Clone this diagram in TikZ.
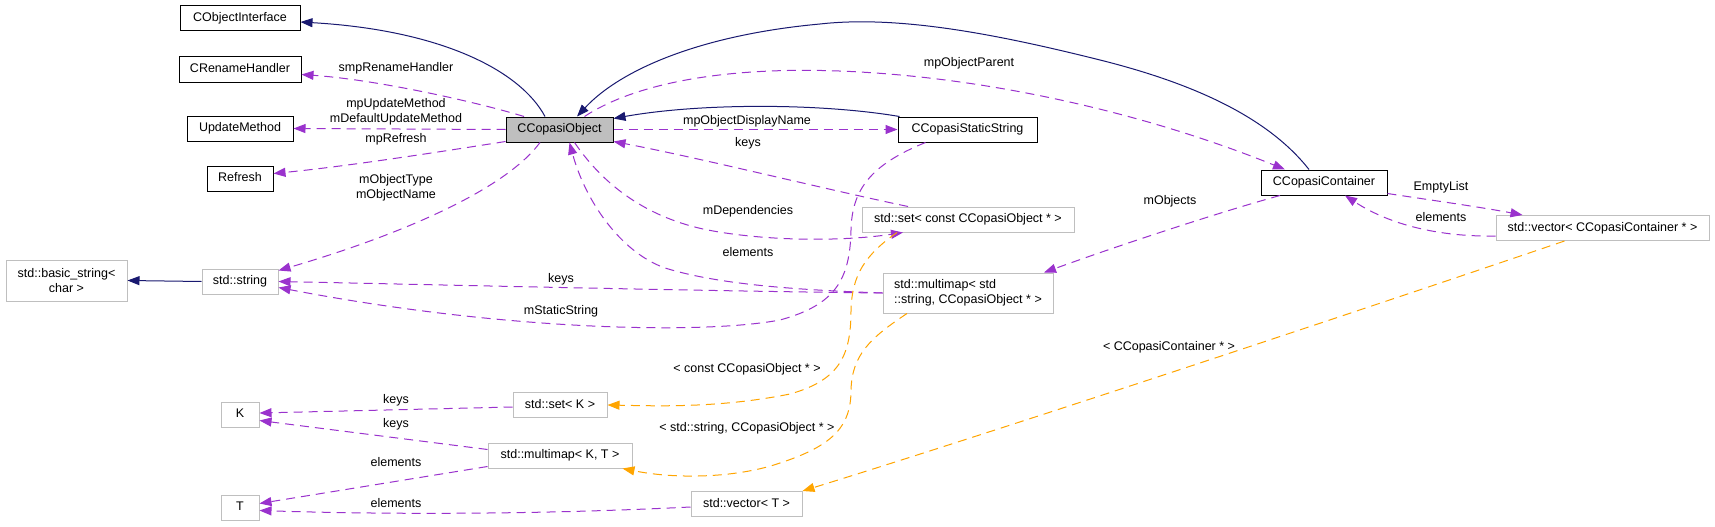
\documentclass[tikz,border=0pt]{standalone}
\usepackage{fontspec}
\setmainfont{Liberation Sans}
\usetikzlibrary{arrows.meta,calc}
\definecolor{navyc}{HTML}{191970}
\definecolor{purp}{HTML}{9A32CD}
\definecolor{orng}{HTML}{FFA500}
\definecolor{gbord}{HTML}{BFBFBF}
\newcommand\dxfont{\fontsize{12.5}{15}\selectfont}
\begin{document}
\begin{tikzpicture}[x=1pt,y=-1pt,
  cls/.style={draw=black, line width=1pt, fill=white, inner sep=0pt, minimum height=25pt, font=\dxfont, text height=9pt, text depth=2.6pt},
  ext/.style={draw=gbord, line width=1pt, fill=white, inner sep=0pt, minimum height=25pt, font=\dxfont, text height=9pt, text depth=2.6pt},
  extm/.style={draw=gbord, line width=1pt, fill=white, inner sep=0pt, font=\dxfont},
  lab/.style={font=\dxfont, inner sep=0pt, text height=9pt, text depth=2.6pt},
  labm/.style={font=\dxfont, inner sep=0pt, align=center},
  tip/.style={-{Triangle[length=12pt,width=9pt]}},
  inh/.style={navyc, line width=1pt, tip},
  use/.style={purp, line width=1pt, dash pattern=on 9pt off 6pt, tip},
  tpl/.style={orng, line width=1pt, dash pattern=on 9pt off 6pt, tip}]
\fill[white] (0,0) rectangle (1715,527);
\useasboundingbox (0,0) rectangle (1715,527);

% classes
\node[cls, fill=gbord, minimum width=107pt] (obj) at (559.5,129.5) {CCopasiObject};
\node[cls, minimum width=120pt] (coi) at (240,18.5) {CObjectInterface};
\node[cls, minimum width=122pt] (ren) at (240,69.5) {CRenameHandler};
\node[cls, minimum width=106pt] (upd) at (240,128.5) {UpdateMethod};
\node[cls, minimum width=66pt] (ref) at (240,178.5) {Refresh};
\node[cls, minimum width=139pt] (stat) at (967.5,129.5) {CCopasiStaticString};
\node[cls, minimum width=126pt] (cont) at (1324,182.5) {CCopasiContainer};
\node[ext, minimum width=213pt] (vcc) at (1602.5,228) {std::vector< CCopasiContainer * >};
\node[ext, minimum width=212pt] (setc) at (968,219.5) {std::set< const CCopasiObject * >};
\node[extm, minimum width=170pt, minimum height=40pt, align=left] (mstr) at (968,293) {std::multimap< std\\::string, CCopasiObject * >};
\node[extm, minimum width=121pt, minimum height=41pt, align=center] (bstr) at (66.5,280.5) {std::basic\_string<\\char >};
\node[ext, minimum width=76pt] (str) at (240,281.5) {std::string};
\node[ext, minimum width=38pt] (K) at (240,414.5) {K};
\node[ext, minimum width=38pt] (T) at (240,507.5) {T};
\node[ext, minimum width=94pt] (setK) at (560,405) {std::set< K >};
\node[ext, minimum width=144pt] (mmKT) at (560,455.5) {std::multimap< K, T >};
\node[ext, minimum width=111pt] (vect) at (746.5,504) {std::vector< T >};

% inheritance
\draw[inh] ([xshift=-14.5pt]obj.north) .. controls (520,70) and (440,30) .. ([yshift=-3.5pt]coi.east);
\draw[inh] ([xshift=-15pt]cont.north) .. controls (1270,120) and (1200,85) .. (1100,60) .. controls (1000,35) and (900,15) .. (820,24) .. controls (700,35) and (620,70) .. ([xshift=17.5pt]obj.north);
\draw[inh] ([xshift=2pt]stat.north west) .. controls (820,103) and (700,103) .. ([yshift=-2pt]obj.north east);
\draw[inh] (str.west) -- (bstr.east);

% usage
\draw[use] (obj.east) -- (stat.west);
\draw[use] ([xshift=25pt]obj.north) .. controls (640,80) and (740,65) .. (860,72) .. controls (1000,80) and (1150,115) .. ([xshift=-39pt]cont.north);
\draw[use] ([xshift=-35.5pt]obj.north) .. controls (480,103) and (380,80) .. ([yshift=-5pt]ren.east);
\draw[use] (obj.west) -- (upd.east);
\draw[use] ([yshift=1pt]obj.south west) .. controls (420,155) and (340,167) .. ([yshift=5pt]ref.east);
\draw[use] ([xshift=-19.5pt]obj.south) .. controls (505,190) and (400,235) .. ([yshift=11pt]str.east);
\draw[use] ([xshift=-60pt]setc.north) .. controls (820,188) and (700,158) .. ([yshift=1pt]obj.south east);
\draw[use] ([xshift=15pt]obj.south) .. controls (600,180) and (640,215) .. (703,229) .. controls (760,241) and (840,242) .. ([xshift=-65pt]setc.south);
\draw[use] (mstr.west) .. controls (800,290) and (720,285) .. (665,268) .. controls (620,252) and (585,200) .. ([xshift=10pt]obj.south);
\draw[use] (mstr.west) .. controls (700,291) and (450,285) .. (str.east);
\draw[use] ([xshift=-42pt]stat.south) .. controls (870,165) and (852,190) .. (851,230) .. controls (850,280) and (835,305) .. (780,320) .. controls (700,335) and (500,330) .. ([yshift=-6pt]str.east);
\draw[use] ([xshift=-44pt]cont.south) .. controls (1220,212) and (1120,245) .. ([xshift=76pt]mstr.north);
\draw[use] ([yshift=2pt]cont.south east) .. controls (1430,200) and (1480,207) .. ([xshift=-80pt]vcc.north);
\draw[use] ([yshift=-8pt]vcc.west) .. controls (1440,237) and (1390,225) .. ([xshift=21pt]cont.south);
\draw[use] ([yshift=-2pt]setK.west) -- ([yshift=1.5pt]K.east);
\draw[use] ([yshift=6pt]mmKT.west) -- ([yshift=-6pt]K.east);
\draw[use] ([yshift=-11pt]mmKT.west) -- ([yshift=4pt]T.east);
\draw[use] ([yshift=-3pt]vect.west) .. controls (550,514) and (400,515) .. ([yshift=-3pt]T.east);

% template instances
\draw[tpl] ([xshift=-38pt]vcc.south) .. controls (1350,314) and (1000,430) .. (vect.north east);
\draw[tpl] ([xshift=-71pt]setc.south) .. controls (865,255) and (852,275) .. (851,310) .. controls (851,355) and (840,380) .. (790,394) .. controls (720,408) and (660,406) .. (setK.east);
\draw[tpl] ([xshift=-61pt]mstr.south) .. controls (870,338) and (852,355) .. (851,390) .. controls (851,425) and (835,445) .. (780,463) .. controls (740,477) and (680,480) .. ([xshift=-10pt]mmKT.south east);

% labels
\node[lab] (t1) at (396,68) {smpRenameHandler};
\node[labm] (t2) at (396,111.5) {mpUpdateMethod\\mDefaultUpdateMethod};
\node[lab] (t3) at (396,139) {mpRefresh};
\node[labm] (t4) at (396,187.5) {mObjectType\\mObjectName};
\node[lab] (t5) at (747,121) {mpObjectDisplayName};
\node[lab] (t6) at (748,143) {keys};
\node[lab] (t7) at (969,63) {mpObjectParent};
\node[lab] (t8) at (748,211) {mDependencies};
\node[lab] (t9) at (748,253) {elements};
\node[lab] (t10) at (561,279) {keys};
\node[lab] (t11) at (561,311) {mStaticString};
\node[lab] (t12) at (1170,201) {mObjects};
\node[lab] (t13) at (1441,187) {EmptyList};
\node[lab] (t14) at (1441,218) {elements};
\node[lab] (t15) at (1169,347) {< CCopasiContainer * >};
\node[lab] (t16) at (747,369) {< const CCopasiObject * >};
\node[lab] (t17) at (747,428) {< std::string, CCopasiObject * >};
\node[lab] (t18) at (396,400) {keys};
\node[lab] (t19) at (396,424) {keys};
\node[lab] (t20) at (396,463) {elements};
\node[lab] (t21) at (396,504) {elements};
\end{tikzpicture}
\end{document}
